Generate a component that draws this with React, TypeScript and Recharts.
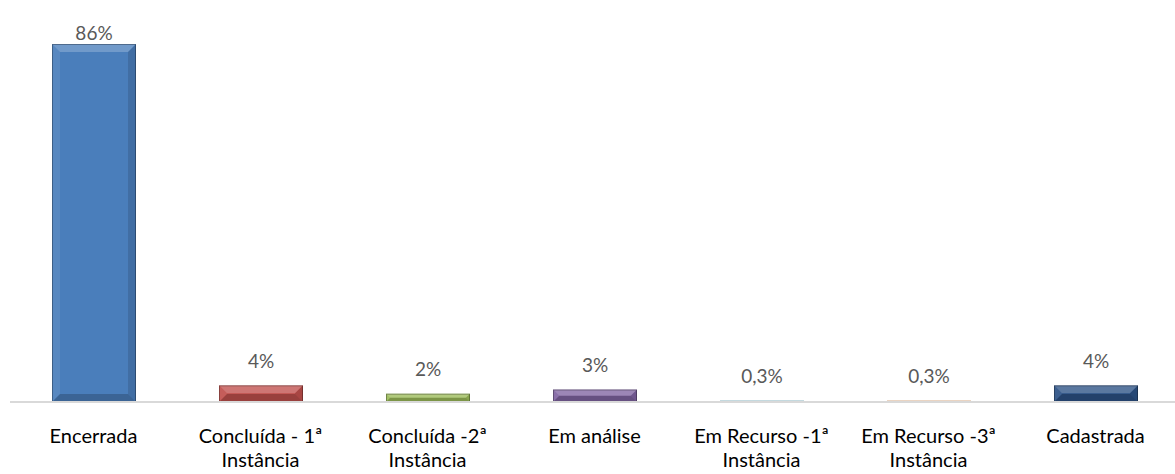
import { Bar, BarChart, Cell, LabelList, XAxis, YAxis } from "recharts";

const categories = [
	"Encerrada",
	"Concluída - 1ª Instância",
	"Concluída -2ª Instância",
	"Em análise",
	"Em Recurso -1ª Instância",
	"Em Recurso -3ª Instância",
	"Cadastrada",
];
const percentages = [86, 4, 2, 3, 0.3, 0.3, 4];
const valueLabels = ["86%", "4%", "2%", "3%", "0,3%", "0,3%", "4%"];
const barColors = ["#4a7ebb", "#c0504d", "#9bbb59", "#8064a2", "#4bacc6", "#f79646", "#2c5286"];

const chartData = categories.map((name, i) => ({
	name,
	value: percentages[i],
	label: valueLabels[i],
}));

// wrap category labels like Excel does: two lines when long
const splitLabel = (text: string) => {
	const idx = text.indexOf(" Instância");
	if (idx < 0) return [text];
	return [text.slice(0, idx), "Instância"];
};

const CategoryTick = (props: any) => {
	const { x, y, payload } = props;
	const lines = splitLabel(payload.value);
	return (
		<g transform={`translate(${x},${y})`}>
			{lines.map((line, i) => (
				<text
					key={i}
					x={0}
					y={33 + i * 24}
					textAnchor="middle"
					fill="#000000"
					fontSize={20}
					fontFamily="Lato"
				>
					{line}
				</text>
			))}
		</g>
	);
};

// value label: sits ~24px above the bar, but never above the chart's top
const ValueLabel = (props: any) => {
	const { x, y, width, value } = props;
	const cy = Math.max(y - 24, 33);
	return (
		<text
			x={x + width / 2}
			y={cy}
			dy="0.35em"
			textAnchor="middle"
			fill="#595959"
			fontSize={19}
			fontFamily="Lato"
		>
			{value}
		</text>
	);
};

const BevelBar = (props: any) => {
	const { x, y, width, height, fill } = props;
	if (!height || height <= 0) return null;
	const b = Math.min(8, height / 2, width / 2);
	return (
		<g>
			<rect x={x} y={y} width={width} height={height} fill={fill} />
			{/* top */}
			<polygon
				points={`${x},${y} ${x + width},${y} ${x + width - b},${y + b} ${x + b},${y + b}`}
				fill="#ffffff"
				fillOpacity={0.22}
			/>
			{/* left */}
			<polygon
				points={`${x},${y} ${x + b},${y + b} ${x + b},${y + height - b} ${x},${y + height}`}
				fill="#ffffff"
				fillOpacity={0.08}
			/>
			{/* right */}
			<polygon
				points={`${x + width},${y} ${x + width},${y + height} ${x + width - b},${y + height - b} ${x + width - b},${y + b}`}
				fill="#000000"
				fillOpacity={0.12}
			/>
			{/* bottom */}
			<polygon
				points={`${x},${y + height} ${x + width},${y + height} ${x + width - b},${y + height - b} ${x + b},${y + height - b}`}
				fill="#000000"
				fillOpacity={0.2}
			/>
			<rect
				x={x + 0.5}
				y={y + 0.5}
				width={width - 1}
				height={height - 1}
				fill="none"
				stroke="#000000"
				strokeOpacity={0.3}
				strokeWidth={1}
			/>
		</g>
	);
};

export default function App() {
	return (
		<div
			style={{
				width: 1175,
				height: 474,
				overflow: "hidden",
				position: "absolute",
				left: 0,
				top: 0,
				background: "#ffffff",
			}}
		>
			<BarChart
				width={1179}
				height={474}
				data={chartData}
				margin={{ top: 44, right: 0, bottom: 0, left: 10 }}
				barSize={84}
			>
				<YAxis hide domain={[0, 86]} />
				<Bar dataKey="value" isAnimationActive={false} shape={<BevelBar />}>
					{chartData.map((d, i) => (
						<Cell key={d.name} fill={barColors[i]} />
					))}
					<LabelList dataKey="label" content={<ValueLabel />} />
				</Bar>
				<XAxis
					dataKey="name"
					height={72}
					interval={0}
					tickLine={false}
					axisLine={{ stroke: "#d9d9d9", strokeWidth: 2 }}
					tick={<CategoryTick />}
				/>
			</BarChart>
		</div>
	);
}
